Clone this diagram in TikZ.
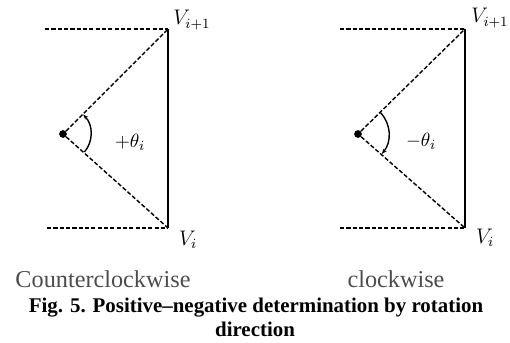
\documentclass[tikz,border=0pt]{standalone}
\usepackage{fontspec}
\setmainfont{Liberation Serif}
\usepackage{tikz}
\usetikzlibrary{arrows.meta,calc}

\begin{document}
\begin{tikzpicture}[x=0.02cm, y=-0.02cm,
    dashln/.style={line width=0.8pt, dash pattern=on 2.4pt off 1.2pt},
    side/.style={line width=1.1pt},
    pivot/.style={circle, fill=black, inner sep=0pt, minimum size=4.4pt},
    turn/.style={line width=0.8pt},
    vlab/.style={font=\fontsize{12}{14}\selectfont, inner sep=0pt},
    alab/.style={font=\fontsize{11}{13}\selectfont, inner sep=0pt},
    dirlab/.style={font=\fontsize{13.8}{16}\selectfont, text=black!70, anchor=base, inner sep=0pt},
    caplab/.style={font=\fontsize{11.9}{14}\selectfont\bfseries, anchor=base, inner sep=0pt}
]
\useasboundingbox (0,0) rectangle (510,342);

\coordinate (lt) at (168,29);
\coordinate (lb) at (168,228);
\coordinate (ltl) at (45,29);
\coordinate (lbl) at (47,228);
\node[pivot] (lo) at (63,134) {};
\draw[dashln] (ltl) -- (lt);
\draw[dashln] (lbl) -- (lb);
\draw[side] (lt) -- (lb);
\draw[dashln] (lo) -- (lt);
\draw[dashln] (lo) -- (lb);
\draw[turn, -{Stealth[length=3pt]}] ($(lo.center)+(40:28)$) arc[start angle=40, end angle=-44, radius=28];
\node[alab] (lang) at (130,142) {$+\theta_i$};
\node[vlab] (ltv) at (192,20) {$V_{i+1}$};
\node[vlab] (lbv) at (188,240) {$V_i$};

\coordinate (rt) at (465,29);
\coordinate (rb) at (465,228);
\coordinate (rtl) at (340,29);
\coordinate (rbl) at (340,228);
\node[pivot] (ro) at (358,134) {};
\draw[dashln] (rtl) -- (rt);
\draw[dashln] (rbl) -- (rb);
\draw[side] (rt) -- (rb);
\draw[dashln] (ro) -- (rt);
\draw[dashln] (ro) -- (rb);
\draw[turn, -{Stealth[length=3pt]}] ($(ro.center)+(-43:31)$) arc[start angle=-43, end angle=40, radius=31];
\node[alab] (rang) at (421,141) {$-\theta_i$};
\node[vlab] (rtv) at (490,18) {$V_{i+1}$};
\node[vlab] (rbv) at (485,238) {$V_i$};

\node[dirlab] (ccw) at (103,287) {Counterclockwise};
\node[dirlab] (cw) at (396,287) {clockwise};
\node[caplab] (cap1) at (256,312) {Fig. 5. Positive–negative determination by rotation};
\node[caplab] (cap2) at (255,336) {direction};
\end{tikzpicture}
\end{document}
